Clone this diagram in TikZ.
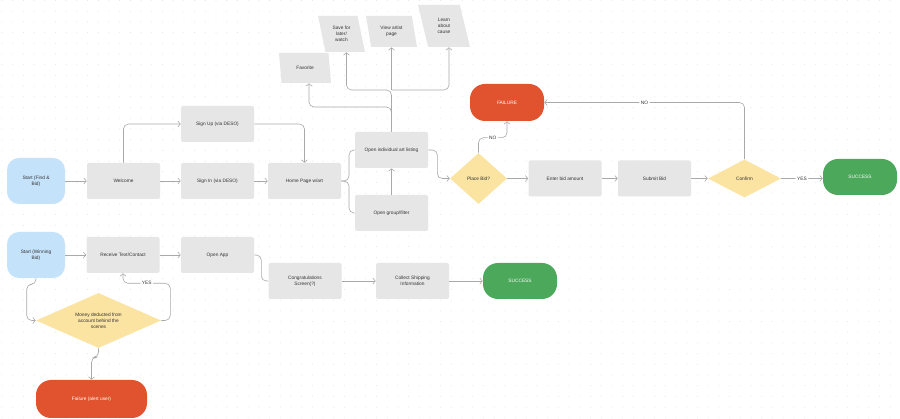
\documentclass[tikz,border=0pt]{standalone}
\usepackage{fontspec}
\setmainfont{Liberation Sans}
\usepackage{xcolor}
\definecolor{BoxGrey}{HTML}{E6E6E6}
\definecolor{StartBlue}{HTML}{C5E2FB}
\definecolor{DecisionYellow}{HTML}{FBE3A1}
\definecolor{FailRed}{HTML}{E1532E}
\definecolor{SuccessGreen}{HTML}{4CA85A}
\definecolor{LineGrey}{HTML}{A9A9A9}
\definecolor{Ink}{HTML}{333333}
\definecolor{DotGrey}{HTML}{E2E2E2}
\usepackage{tikz}
\usetikzlibrary{shapes.geometric,arrows.meta}
\tikzset{>={Straight Barb[length=2.5pt,width=6pt]}}
\newcommand{\flowfont}{\fontsize{4.8}{6}\selectfont}
\tikzstyle{stepbox}=[rectangle,rounded corners=2,fill=BoxGrey,minimum width=73,minimum height=36,align=center,font=\flowfont,text=Ink,inner sep=0]
\tikzstyle{startbox}=[rectangle,rounded corners=12,fill=StartBlue,minimum width=58,minimum height=46,align=center,font=\flowfont,text=Ink,inner sep=0]
\tikzstyle{endfail}=[rectangle,rounded corners=15,fill=FailRed,minimum width=74,minimum height=37,align=center,font=\flowfont,text=white,inner sep=0]
\tikzstyle{endok}=[rectangle,rounded corners=15,fill=SuccessGreen,minimum width=74,minimum height=36,align=center,font=\flowfont,text=white,inner sep=0]
\tikzstyle{decision}=[diamond,fill=DecisionYellow,align=center,font=\flowfont,text=Ink,inner sep=0]
\tikzstyle{choice}=[trapezium,trapezium left angle=105,trapezium right angle=75,trapezium stretches=true,fill=BoxGrey,align=center,font=\flowfont,text=Ink,inner sep=0]
\tikzstyle{link}=[draw=LineGrey,rounded corners=5]
\tikzstyle{conn}=[link,->]
\tikzstyle{answer}=[fill=white,inner sep=1.5,font=\flowfont,text=Ink]

\begin{document}
\begin{tikzpicture}[x=1pt, y=-1pt, line width=0.6]
	% Canvas
	\useasboundingbox[fill=white] (0,0) rectangle (900,419);
	\foreach \i in {0,...,84}
		\foreach \j in {0,...,39}
			\fill[DotGrey] (2+10.7*\i,0.5+10.7*\j) circle [radius=0.5];
	
	% Find & Bid
	\node[startbox] (startFind) at (36,181) {Start (Find \&\\Bid)};
	\node[stepbox] (welcome) at (123.5,181) {Welcome};
	\node[stepbox] (signUp) at (217.5,124) {Sign Up (via DESO)};
	\node[stepbox] (signIn) at (217.5,181) {Sign In (via DESO)};
	\node[stepbox] (home) at (304.5,181) {Home Page w/art};
	\node[stepbox] (listing) at (391.5,150) {Open individual art listing};
	\node[stepbox] (filter) at (391.5,213) {Open group/filter};
	
	%% Listing actions
	\node[choice, minimum width=52, minimum height=30] (favorite) at (305,68) {Favorite};
	\node[choice, minimum width=47, minimum height=36] (save) at (341.5,34) {Save for\\later/\\watch};
	\node[choice, minimum width=51, minimum height=31] (artist) at (391.5,31.5) {View artist\\page};
	\node[choice, minimum width=52, minimum height=42] (cause) at (444,26) {Learn\\about\\cause};
	
	%% Bidding
	\node[decision, minimum width=57, minimum height=51] (placeBid) at (478.5,178.5) {Place Bid?};
	\node[endfail] (failBid) at (507,102.5) {FAILURE};
	\node[stepbox] (amount) at (565,178.5) {Enter bid amount};
	\node[stepbox] (submit) at (654.5,178.5) {Submit Bid};
	\node[decision, minimum width=73, minimum height=38] (confirm) at (744.5,178.5) {Confirm};
	\node[endok] (successBid) at (860,177) {SUCCESS};
	
	% Winning Bid
	\node[startbox] (startWin) at (36,255) {Start (Winning\\Bid)};
	\node[stepbox] (receive) at (123,255) {Receive Text/Contact};
	\node[stepbox] (openApp) at (217.5,255) {Open App};
	\node[stepbox] (congrats) at (305,281) {Congratulations\\Screen(?)};
	\node[stepbox] (shipping) at (412.5,281) {Collect Shipping\\Information};
	\node[endok] (successWin) at (520,281) {SUCCESS};
	\node[decision, shape aspect=2.3, minimum width=125, minimum height=55] (deduct) at (98.5,320.5) {Money deducted from\\account behind the\\scenes};
	\node[endfail, minimum width=111, minimum height=38] (failWin) at (91.5,399) {Failure (alert user)};
	
	% Connectors
	\coordinate (brace) at (349,181);
	\coordinate (favFork) at (391.5,107);
	\coordinate (topFork) at (391.5,90);
	\draw[conn] (startFind) -- (welcome);
	\draw[conn] (welcome.north) |- (signUp.west);
	\draw[conn] (signUp.east) -| (home.north);
	\draw[conn] (welcome) -- (signIn);
	\draw[conn] (signIn) -- (home);
	\draw[link] (home.east) -- (brace) |- (listing.west);
	\draw[link] (home.east) -- (brace) |- (filter.west);
	\draw[conn] (filter) -- (listing);
	\draw[conn] (listing.north) -- (favFork) -| ([xshift=4]favorite.south);
	\draw[conn] (listing.north) -- (topFork) -| ([xshift=5]save.south);
	\draw[conn] (topFork) -- (artist.south);
	\draw[conn] (topFork) -| ([xshift=5]cause.south);
	\draw[conn] (listing.east) -- ++(9,0) |- (placeBid.west);
	\draw[conn] (placeBid.north) -- ++(0,-15) -| (failBid.south) node[answer, pos=0.25] (noBid) {NO};
	\draw[conn] (placeBid) -- (amount);
	\draw[conn] (amount) -- (submit);
	\draw[conn] (submit) -- (confirm);
	\draw[conn] (confirm.east) -- (confirm.east -| successBid.west) node[answer, pos=0.5] (yesBid) {YES};
	\draw[conn] (confirm.north) |- (failBid.east) node[answer, pos=0.75] (noConfirm) {NO};
	
	%% Winning Bid
	\draw[conn] (startWin) -- (receive);
	\draw[conn] (receive) -- (openApp);
	\draw[link] (openApp.east) -- ++(7,0) |- (congrats.west);
	\draw[conn] (congrats) -- (shipping);
	\draw[conn] (shipping) -- (successWin);
	\draw[conn] (startWin.south) -- ++(0,6) -| ([xshift=-9]deduct.west) -- (deduct.west);
	\draw[conn] (deduct.east) -- ++(9,0) |- ([yshift=-10]receive.south) node[answer, pos=0.75] (yesWin) {YES} -- (receive.south);
	\draw[conn] (deduct.south) -- ++(0,9) -| (failWin.north);
\end{tikzpicture}
\end{document}
